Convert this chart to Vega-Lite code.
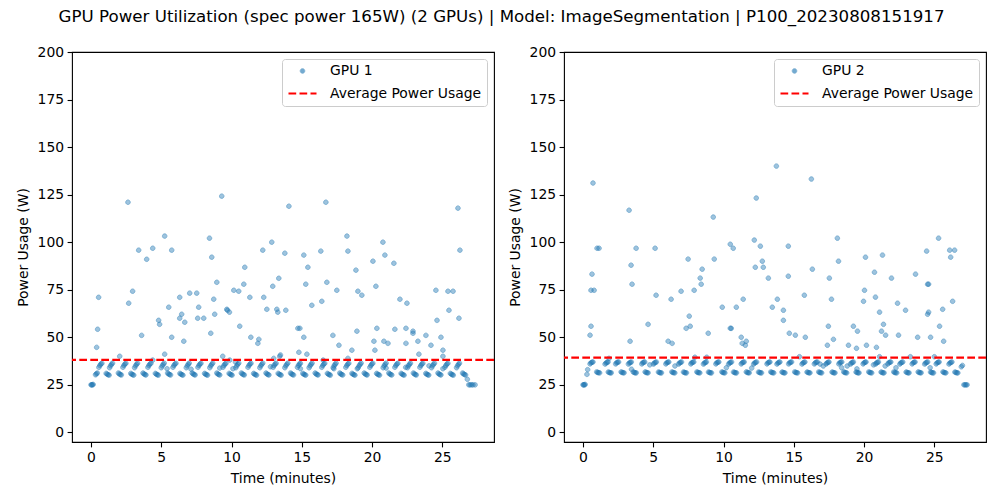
{
"$schema": "https://vega.github.io/schema/vega-lite/v6.json",
"background": "white",
"padding": {"left": 15, "top": 9, "right": 5, "bottom": 5},
"title": {"text": "GPU Power Utilization (spec power 165W) (2 GPUs) | Model: ImageSegmentation | P100_20230808151917", "anchor": "middle", "frame": "bounds", "font": "DejaVu Sans", "fontSize": 16.67, "fontWeight": "normal", "color": "black", "offset": 18.5},
"config": {
  "font": "DejaVu Sans",
  "view": {"stroke": "black", "strokeWidth": 1.1},
  "axis": {"grid": false, "domain": false, "ticks": true, "tickColor": "black", "tickWidth": 1.1, "tickSize": 4.9, "labelFont": "DejaVu Sans", "labelFontSize": 13.9, "labelColor": "black", "labelPadding": 3.5, "titleFont": "DejaVu Sans", "titleFontSize": 13.9, "titleFontWeight": "normal", "titleColor": "black"},
  "axisX": {"titlePadding": 7},
  "axisY": {"titlePadding": 7},
  "legend": {"title": null, "orient": "top-right", "offset": 7, "padding": 5, "strokeColor": "#cccccc", "fillColor": "rgba(255,255,255,0.8)", "cornerRadius": 3, "labelFont": "DejaVu Sans", "labelFontSize": 13.9, "labelColor": "black", "labelOffset": 12, "rowPadding": -2.7}
},
"datasets": {
"g1": [
{"t":0,"p":25},{"t":0.05,"p":25},{"t":0.1,"p":25},{"t":0.15,"p":25.2},{"t":0.32,"p":30.3},{"t":0.38,"p":30.8},{"t":0.45,"p":31.2},
{"t":0.56,"p":34.2},{"t":0.63,"p":35.2},{"t":0.70,"p":35.9},{"t":0.77,"p":36.3},
{"t":1.32,"p":34.0},{"t":1.39,"p":35.0},{"t":1.46,"p":35.8},{"t":1.53,"p":36.4},
{"t":2.27,"p":34.2},{"t":2.34,"p":35.2},{"t":2.41,"p":35.9},{"t":2.48,"p":36.3},
{"t":3.10,"p":34.0},{"t":3.17,"p":35.0},{"t":3.24,"p":35.8},{"t":3.31,"p":36.4},
{"t":4.05,"p":34.2},{"t":4.12,"p":35.2},{"t":4.19,"p":35.9},{"t":4.26,"p":36.3},
{"t":5.00,"p":34.0},{"t":5.07,"p":35.0},{"t":5.14,"p":35.8},{"t":5.21,"p":36.4},
{"t":5.83,"p":34.2},{"t":5.90,"p":35.2},{"t":5.97,"p":35.9},{"t":6.04,"p":36.3},
{"t":6.78,"p":34.0},{"t":6.85,"p":35.0},{"t":6.92,"p":35.8},{"t":6.99,"p":36.4},
{"t":7.61,"p":34.2},{"t":7.68,"p":35.2},{"t":7.75,"p":35.9},{"t":7.82,"p":36.3},
{"t":8.45,"p":34.0},{"t":8.52,"p":35.0},{"t":8.59,"p":35.8},{"t":8.66,"p":36.4},
{"t":9.39,"p":34.2},{"t":9.46,"p":35.2},{"t":9.53,"p":35.9},{"t":9.60,"p":36.3},
{"t":10.30,"p":34.0},{"t":10.37,"p":35.0},{"t":10.44,"p":35.8},{"t":10.51,"p":36.4},
{"t":11.17,"p":34.2},{"t":11.24,"p":35.2},{"t":11.31,"p":35.9},{"t":11.38,"p":36.3},
{"t":12.01,"p":34.0},{"t":12.08,"p":35.0},{"t":12.15,"p":35.8},{"t":12.22,"p":36.4},
{"t":12.96,"p":34.2},{"t":13.03,"p":35.2},{"t":13.10,"p":35.9},{"t":13.17,"p":36.3},
{"t":13.79,"p":34.0},{"t":13.86,"p":35.0},{"t":13.93,"p":35.8},{"t":14.00,"p":36.4},
{"t":14.69,"p":34.2},{"t":14.76,"p":35.2},{"t":14.83,"p":35.9},{"t":14.90,"p":36.3},
{"t":15.52,"p":34.0},{"t":15.59,"p":35.0},{"t":15.66,"p":35.8},{"t":15.73,"p":36.4},
{"t":16.42,"p":34.2},{"t":16.49,"p":35.2},{"t":16.56,"p":35.9},{"t":16.63,"p":36.3},
{"t":17.23,"p":34.0},{"t":17.30,"p":35.0},{"t":17.37,"p":35.8},{"t":17.44,"p":36.4},
{"t":18.13,"p":34.2},{"t":18.20,"p":35.2},{"t":18.27,"p":35.9},{"t":18.34,"p":36.3},
{"t":19.01,"p":34.0},{"t":19.08,"p":35.0},{"t":19.15,"p":35.8},{"t":19.22,"p":36.4},
{"t":19.84,"p":34.2},{"t":19.91,"p":35.2},{"t":19.98,"p":35.9},{"t":20.05,"p":36.3},
{"t":20.79,"p":34.0},{"t":20.86,"p":35.0},{"t":20.93,"p":35.8},{"t":21.00,"p":36.4},
{"t":21.62,"p":34.2},{"t":21.69,"p":35.2},{"t":21.76,"p":35.9},{"t":21.83,"p":36.3},
{"t":22.52,"p":34.0},{"t":22.59,"p":35.0},{"t":22.66,"p":35.8},{"t":22.73,"p":36.4},
{"t":23.40,"p":34.2},{"t":23.47,"p":35.2},{"t":23.54,"p":35.9},{"t":23.61,"p":36.3},
{"t":24.23,"p":34.0},{"t":24.30,"p":35.0},{"t":24.37,"p":35.8},{"t":24.44,"p":36.4},
{"t":25.18,"p":34.2},{"t":25.25,"p":35.2},{"t":25.32,"p":35.9},{"t":25.39,"p":36.3},
{"t":26.01,"p":34.0},{"t":26.08,"p":35.0},{"t":26.15,"p":35.8},{"t":26.22,"p":36.4},
{"t":1.08,"p":31.0},{"t":1.15,"p":30.6},{"t":1.22,"p":30.3},{"t":1.29,"p":30.1},
{"t":1.95,"p":31.2},{"t":2.02,"p":30.7},{"t":2.09,"p":30.4},{"t":2.16,"p":30.2},
{"t":2.83,"p":31.0},{"t":2.90,"p":30.6},{"t":2.97,"p":30.3},{"t":3.04,"p":30.1},
{"t":3.70,"p":31.2},{"t":3.77,"p":30.7},{"t":3.84,"p":30.4},{"t":3.91,"p":30.2},
{"t":4.58,"p":31.0},{"t":4.65,"p":30.6},{"t":4.72,"p":30.3},{"t":4.79,"p":30.1},
{"t":5.45,"p":31.2},{"t":5.52,"p":30.7},{"t":5.59,"p":30.4},{"t":5.66,"p":30.2},
{"t":6.33,"p":31.0},{"t":6.40,"p":30.6},{"t":6.47,"p":30.3},{"t":6.54,"p":30.1},
{"t":7.20,"p":31.2},{"t":7.27,"p":30.7},{"t":7.34,"p":30.4},{"t":7.41,"p":30.2},
{"t":8.08,"p":31.0},{"t":8.15,"p":30.6},{"t":8.22,"p":30.3},{"t":8.29,"p":30.1},
{"t":8.95,"p":31.2},{"t":9.02,"p":30.7},{"t":9.09,"p":30.4},{"t":9.16,"p":30.2},
{"t":9.83,"p":31.0},{"t":9.90,"p":30.6},{"t":9.97,"p":30.3},{"t":10.04,"p":30.1},
{"t":10.70,"p":31.2},{"t":10.77,"p":30.7},{"t":10.84,"p":30.4},{"t":10.91,"p":30.2},
{"t":11.57,"p":31.0},{"t":11.64,"p":30.6},{"t":11.71,"p":30.3},{"t":11.78,"p":30.1},
{"t":12.45,"p":31.2},{"t":12.52,"p":30.7},{"t":12.59,"p":30.4},{"t":12.66,"p":30.2},
{"t":13.32,"p":31.0},{"t":13.39,"p":30.6},{"t":13.46,"p":30.3},{"t":13.53,"p":30.1},
{"t":14.20,"p":31.2},{"t":14.27,"p":30.7},{"t":14.34,"p":30.4},{"t":14.41,"p":30.2},
{"t":15.07,"p":31.0},{"t":15.14,"p":30.6},{"t":15.21,"p":30.3},{"t":15.28,"p":30.1},
{"t":15.95,"p":31.2},{"t":16.02,"p":30.7},{"t":16.09,"p":30.4},{"t":16.16,"p":30.2},
{"t":16.82,"p":31.0},{"t":16.89,"p":30.6},{"t":16.96,"p":30.3},{"t":17.03,"p":30.1},
{"t":17.70,"p":31.2},{"t":17.77,"p":30.7},{"t":17.84,"p":30.4},{"t":17.91,"p":30.2},
{"t":18.57,"p":31.0},{"t":18.64,"p":30.6},{"t":18.71,"p":30.3},{"t":18.78,"p":30.1},
{"t":19.44,"p":31.2},{"t":19.51,"p":30.7},{"t":19.58,"p":30.4},{"t":19.65,"p":30.2},
{"t":20.32,"p":31.0},{"t":20.39,"p":30.6},{"t":20.46,"p":30.3},{"t":20.53,"p":30.1},
{"t":21.19,"p":31.2},{"t":21.26,"p":30.7},{"t":21.33,"p":30.4},{"t":21.40,"p":30.2},
{"t":22.07,"p":31.0},{"t":22.14,"p":30.6},{"t":22.21,"p":30.3},{"t":22.28,"p":30.1},
{"t":22.94,"p":31.2},{"t":23.01,"p":30.7},{"t":23.08,"p":30.4},{"t":23.15,"p":30.2},
{"t":23.82,"p":31.0},{"t":23.89,"p":30.6},{"t":23.96,"p":30.3},{"t":24.03,"p":30.1},
{"t":24.69,"p":31.2},{"t":24.76,"p":30.7},{"t":24.83,"p":30.4},{"t":24.90,"p":30.2},
{"t":25.57,"p":31.0},{"t":25.64,"p":30.6},{"t":25.71,"p":30.3},{"t":25.78,"p":30.1},
{"t":26.44,"p":31.2},{"t":26.51,"p":30.7},{"t":26.58,"p":30.4},{"t":26.65,"p":30.2},
{"t":26.78,"p":27.9},{"t":26.88,"p":25},{"t":26.98,"p":25},{"t":27.08,"p":25},{"t":27.18,"p":25},{"t":27.33,"p":25},
{"t":2.63,"p":121.0},{"t":9.30,"p":124.2},{"t":14.08,"p":118.9},{"t":16.71,"p":121.0},{"t":26.11,"p":117.9},
{"t":5.24,"p":103.2},{"t":3.39,"p":95.8},{"t":4.39,"p":96.8},{"t":3.96,"p":91.0},{"t":5.74,"p":95.8},
{"t":8.43,"p":102.1},{"t":8.59,"p":92.1},{"t":12.22,"p":95.8},{"t":12.86,"p":100.0},{"t":13.79,"p":94.2},
{"t":15.14,"p":93.2},{"t":16.35,"p":95.3},{"t":18.21,"p":103.2},{"t":18.28,"p":95.3},{"t":20.77,"p":100.0},
{"t":20.91,"p":93.2},{"t":20.06,"p":90.0},{"t":21.55,"p":88.9},{"t":26.25,"p":95.8},{"t":10.94,"p":86.8},
{"t":15.43,"p":86.8},{"t":18.85,"p":85.3},{"t":8.95,"p":78.9},{"t":10.87,"p":77.9},{"t":13.36,"p":81.0},
{"t":12.93,"p":76.8},{"t":15.28,"p":77.9},{"t":16.78,"p":78.9},{"t":20.27,"p":76.8},{"t":0.54,"p":71.0},
{"t":2.96,"p":74.2},{"t":2.68,"p":67.9},{"t":6.31,"p":71.0},{"t":7.02,"p":73.2},{"t":7.52,"p":73.2},
{"t":5.53,"p":65.8},{"t":7.66,"p":65.8},{"t":8.73,"p":70.0},{"t":10.16,"p":74.7},{"t":10.51,"p":74.2},
{"t":11.30,"p":71.0},{"t":12.29,"p":71.0},{"t":17.49,"p":74.7},{"t":18.99,"p":74.2},{"t":19.27,"p":72.1},
{"t":21.98,"p":70.0},{"t":22.48,"p":67.9},{"t":24.54,"p":74.7},{"t":25.40,"p":74.2},{"t":25.76,"p":74.2},
{"t":15.71,"p":66.8},{"t":16.42,"p":68.9},{"t":9.66,"p":64.7},{"t":9.71,"p":64.2},{"t":9.85,"p":63.2},
{"t":12.51,"p":64.7},{"t":13.22,"p":64.7},{"t":13.29,"p":63.2},{"t":13.86,"p":64.2},{"t":6.45,"p":62.1},
{"t":6.31,"p":60.0},{"t":6.67,"p":57.9},{"t":7.59,"p":60.0},{"t":8.02,"p":60.0},{"t":8.80,"p":62.1},
{"t":4.81,"p":58.9},{"t":4.88,"p":56.8},{"t":24.62,"p":58.9},{"t":25.47,"p":64.2},{"t":26.18,"p":60.0},
{"t":0.47,"p":54.2},{"t":0.40,"p":44.7},{"t":3.60,"p":51.0},{"t":5.74,"p":50.0},{"t":6.60,"p":47.9},
{"t":8.52,"p":52.1},{"t":10.58,"p":55.8},{"t":11.37,"p":50.0},{"t":11.94,"p":48.9},{"t":11.87,"p":46.8},
{"t":14.72,"p":54.7},{"t":14.86,"p":54.7},{"t":15.14,"p":50.0},{"t":17.21,"p":51.0},{"t":17.64,"p":45.8},
{"t":18.92,"p":53.2},{"t":20.34,"p":54.7},{"t":20.13,"p":47.9},{"t":20.84,"p":47.9},{"t":21.13,"p":46.8},
{"t":21.62,"p":54.2},{"t":22.41,"p":54.7},{"t":22.91,"p":53.2},{"t":22.91,"p":52.1},{"t":22.41,"p":46.8},
{"t":23.26,"p":47.9},{"t":23.83,"p":51.0},{"t":24.19,"p":45.8},{"t":24.90,"p":50.0},{"t":25.04,"p":43.2},
{"t":25.04,"p":40.0},{"t":2.04,"p":40.0},{"t":5.24,"p":41.1},{"t":9.37,"p":40.0},{"t":13.00,"p":38.9},
{"t":13.43,"p":40.0},{"t":14.79,"p":42.1},{"t":15.36,"p":41.1},{"t":18.56,"p":43.2},{"t":18.28,"p":38.9},
{"t":20.20,"p":43.2},{"t":23.33,"p":41.1},
{"t":4.39,"p":38.0},{"t":9.87,"p":38.0},{"t":10.28,"p":37.0},{"t":13.48,"p":40.7},{"t":16.52,"p":38.0},
{"t":5.41,"p":33.5},{"t":7.12,"p":33.2},{"t":9.16,"p":33.8},{"t":10.10,"p":33.5},{"t":12.77,"p":34.5},
{"t":14.90,"p":33.5},{"t":17.28,"p":33.5},{"t":18.95,"p":33.5},{"t":21.00,"p":33.8},{"t":22.39,"p":34.2},
{"t":24.05,"p":35.0},{"t":25.04,"p":33.5}
],
"g2": [
{"t":0,"p":25},{"t":0.05,"p":25},{"t":0.1,"p":25},{"t":0.15,"p":25.2},{"t":0.28,"p":30.5},{"t":0.33,"p":33.0},
{"t":0.50,"p":36.0},{"t":0.57,"p":36.6},{"t":0.64,"p":36.9},{"t":0.71,"p":37.0},
{"t":1.57,"p":35.9},{"t":1.64,"p":36.5},{"t":1.71,"p":36.8},{"t":1.78,"p":37.0},
{"t":2.32,"p":36.0},{"t":2.39,"p":36.6},{"t":2.46,"p":36.9},{"t":2.53,"p":37.0},
{"t":3.23,"p":35.9},{"t":3.30,"p":36.5},{"t":3.37,"p":36.8},{"t":3.44,"p":37.0},
{"t":4.18,"p":36.0},{"t":4.25,"p":36.6},{"t":4.32,"p":36.9},{"t":4.39,"p":37.0},
{"t":5.01,"p":35.9},{"t":5.08,"p":36.5},{"t":5.15,"p":36.8},{"t":5.22,"p":37.0},
{"t":5.89,"p":36.0},{"t":5.96,"p":36.6},{"t":6.03,"p":36.9},{"t":6.10,"p":37.0},
{"t":6.80,"p":35.9},{"t":6.87,"p":36.5},{"t":6.94,"p":36.8},{"t":7.01,"p":37.0},
{"t":7.67,"p":36.0},{"t":7.74,"p":36.6},{"t":7.81,"p":36.9},{"t":7.88,"p":37.0},
{"t":8.57,"p":35.9},{"t":8.64,"p":36.5},{"t":8.71,"p":36.8},{"t":8.78,"p":37.0},
{"t":9.45,"p":36.0},{"t":9.52,"p":36.6},{"t":9.59,"p":36.9},{"t":9.66,"p":37.0},
{"t":10.36,"p":35.9},{"t":10.43,"p":36.5},{"t":10.50,"p":36.8},{"t":10.57,"p":37.0},
{"t":11.26,"p":36.0},{"t":11.33,"p":36.6},{"t":11.40,"p":36.9},{"t":11.47,"p":37.0},
{"t":12.14,"p":35.9},{"t":12.21,"p":36.5},{"t":12.28,"p":36.8},{"t":12.35,"p":37.0},
{"t":13.09,"p":36.0},{"t":13.16,"p":36.6},{"t":13.23,"p":36.9},{"t":13.30,"p":37.0},
{"t":13.80,"p":35.9},{"t":13.87,"p":36.5},{"t":13.94,"p":36.8},{"t":14.01,"p":37.0},
{"t":14.63,"p":36.0},{"t":14.70,"p":36.6},{"t":14.77,"p":36.9},{"t":14.84,"p":37.0},
{"t":15.58,"p":35.9},{"t":15.65,"p":36.5},{"t":15.72,"p":36.8},{"t":15.79,"p":37.0},
{"t":16.46,"p":36.0},{"t":16.53,"p":36.6},{"t":16.60,"p":36.9},{"t":16.67,"p":37.0},
{"t":17.29,"p":35.9},{"t":17.36,"p":36.5},{"t":17.43,"p":36.8},{"t":17.50,"p":37.0},
{"t":18.20,"p":36.0},{"t":18.27,"p":36.6},{"t":18.34,"p":36.9},{"t":18.41,"p":37.0},
{"t":19.03,"p":35.9},{"t":19.10,"p":36.5},{"t":19.17,"p":36.8},{"t":19.24,"p":37.0},
{"t":19.93,"p":36.0},{"t":20.00,"p":36.6},{"t":20.07,"p":36.9},{"t":20.14,"p":37.0},
{"t":20.81,"p":35.9},{"t":20.88,"p":36.5},{"t":20.95,"p":36.8},{"t":21.02,"p":37.0},
{"t":21.69,"p":36.0},{"t":21.76,"p":36.6},{"t":21.83,"p":36.9},{"t":21.90,"p":37.0},
{"t":22.54,"p":35.9},{"t":22.61,"p":36.5},{"t":22.68,"p":36.8},{"t":22.75,"p":37.0},
{"t":23.42,"p":36.0},{"t":23.49,"p":36.6},{"t":23.56,"p":36.9},{"t":23.63,"p":37.0},
{"t":24.31,"p":35.9},{"t":24.38,"p":36.5},{"t":24.45,"p":36.8},{"t":24.52,"p":37.0},
{"t":25.13,"p":36.0},{"t":25.20,"p":36.6},{"t":25.27,"p":36.9},{"t":25.34,"p":37.0},
{"t":26.04,"p":35.9},{"t":26.11,"p":36.5},{"t":26.18,"p":36.8},{"t":26.25,"p":37.0},
{"t":0.97,"p":31.8},{"t":1.04,"p":31.5},{"t":1.11,"p":31.4},{"t":1.18,"p":31.3},
{"t":1.80,"p":31.7},{"t":1.87,"p":31.5},{"t":1.94,"p":31.3},{"t":2.01,"p":31.3},
{"t":2.71,"p":31.8},{"t":2.78,"p":31.5},{"t":2.85,"p":31.4},{"t":2.92,"p":31.3},
{"t":3.58,"p":31.7},{"t":3.65,"p":31.5},{"t":3.72,"p":31.3},{"t":3.79,"p":31.3},
{"t":4.42,"p":31.8},{"t":4.49,"p":31.5},{"t":4.56,"p":31.4},{"t":4.63,"p":31.3},
{"t":5.37,"p":31.7},{"t":5.44,"p":31.5},{"t":5.51,"p":31.3},{"t":5.58,"p":31.3},
{"t":6.32,"p":31.8},{"t":6.39,"p":31.5},{"t":6.46,"p":31.4},{"t":6.53,"p":31.3},
{"t":7.15,"p":31.7},{"t":7.22,"p":31.5},{"t":7.29,"p":31.3},{"t":7.36,"p":31.3},
{"t":8.10,"p":31.8},{"t":8.17,"p":31.5},{"t":8.24,"p":31.4},{"t":8.31,"p":31.3},
{"t":8.93,"p":31.7},{"t":9.00,"p":31.5},{"t":9.07,"p":31.3},{"t":9.14,"p":31.3},
{"t":9.88,"p":31.8},{"t":9.95,"p":31.5},{"t":10.02,"p":31.4},{"t":10.09,"p":31.3},
{"t":10.71,"p":31.7},{"t":10.78,"p":31.5},{"t":10.85,"p":31.3},{"t":10.92,"p":31.3},
{"t":11.62,"p":31.8},{"t":11.69,"p":31.5},{"t":11.76,"p":31.4},{"t":11.83,"p":31.3},
{"t":12.49,"p":31.7},{"t":12.56,"p":31.5},{"t":12.63,"p":31.3},{"t":12.70,"p":31.3},
{"t":13.36,"p":31.8},{"t":13.43,"p":31.5},{"t":13.50,"p":31.4},{"t":13.57,"p":31.3},
{"t":14.16,"p":31.7},{"t":14.23,"p":31.5},{"t":14.30,"p":31.3},{"t":14.37,"p":31.3},
{"t":15.06,"p":31.8},{"t":15.13,"p":31.5},{"t":15.20,"p":31.4},{"t":15.27,"p":31.3},
{"t":15.94,"p":31.7},{"t":16.01,"p":31.5},{"t":16.08,"p":31.3},{"t":16.15,"p":31.3},
{"t":16.77,"p":31.8},{"t":16.84,"p":31.5},{"t":16.91,"p":31.4},{"t":16.98,"p":31.3},
{"t":17.72,"p":31.7},{"t":17.79,"p":31.5},{"t":17.86,"p":31.3},{"t":17.93,"p":31.3},
{"t":18.55,"p":31.8},{"t":18.62,"p":31.5},{"t":18.69,"p":31.4},{"t":18.76,"p":31.3},
{"t":19.43,"p":31.7},{"t":19.50,"p":31.5},{"t":19.57,"p":31.3},{"t":19.64,"p":31.3},
{"t":20.33,"p":31.8},{"t":20.40,"p":31.5},{"t":20.47,"p":31.4},{"t":20.54,"p":31.3},
{"t":21.21,"p":31.7},{"t":21.28,"p":31.5},{"t":21.35,"p":31.3},{"t":21.42,"p":31.3},
{"t":22.11,"p":31.8},{"t":22.18,"p":31.5},{"t":22.25,"p":31.4},{"t":22.32,"p":31.3},
{"t":22.99,"p":31.7},{"t":23.06,"p":31.5},{"t":23.13,"p":31.3},{"t":23.20,"p":31.3},
{"t":23.85,"p":31.8},{"t":23.92,"p":31.5},{"t":23.99,"p":31.4},{"t":24.06,"p":31.3},
{"t":24.73,"p":31.7},{"t":24.80,"p":31.5},{"t":24.87,"p":31.3},{"t":24.94,"p":31.3},
{"t":25.61,"p":31.8},{"t":25.68,"p":31.5},{"t":25.75,"p":31.4},{"t":25.82,"p":31.3},
{"t":26.46,"p":31.7},{"t":26.53,"p":31.5},{"t":26.60,"p":31.3},{"t":26.67,"p":31.3},
{"t":26.92,"p":34.5},{"t":27.00,"p":35.2},{"t":27.10,"p":25},{"t":27.18,"p":25},{"t":27.25,"p":25},{"t":27.33,"p":25},
{"t":13.76,"p":140.0},{"t":16.25,"p":133.2},{"t":0.71,"p":131.1},{"t":12.33,"p":123.2},{"t":3.28,"p":116.8},
{"t":9.27,"p":113.2},{"t":12.19,"p":101.1},{"t":18.10,"p":102.1},{"t":25.30,"p":102.1},{"t":10.48,"p":98.9},
{"t":10.69,"p":96.8},{"t":12.62,"p":97.9},{"t":14.61,"p":97.9},{"t":24.45,"p":95.3},{"t":26.09,"p":95.8},
{"t":26.44,"p":95.8},{"t":1.00,"p":96.8},{"t":1.14,"p":96.8},{"t":3.78,"p":96.8},{"t":5.13,"p":96.8},
{"t":26.16,"p":92.1},{"t":20.10,"p":92.1},{"t":21.31,"p":93.2},{"t":7.48,"p":91.1},{"t":9.34,"p":91.1},
{"t":12.76,"p":90.0},{"t":18.18,"p":90.0},{"t":3.42,"p":87.9},{"t":12.26,"p":86.8},{"t":12.83,"p":86.8},
{"t":8.48,"p":85.8},{"t":16.32,"p":85.8},{"t":0.64,"p":83.2},{"t":20.74,"p":84.2},{"t":23.66,"p":83.2},
{"t":8.34,"p":81.1},{"t":13.19,"p":81.1},{"t":14.61,"p":82.1},{"t":17.53,"p":81.1},{"t":21.95,"p":81.1},
{"t":3.49,"p":77.9},{"t":8.41,"p":77.9},{"t":24.52,"p":77.9},{"t":24.59,"p":77.9},{"t":0.57,"p":74.7},
{"t":0.79,"p":74.7},{"t":7.91,"p":74.7},{"t":20.03,"p":74.7},{"t":6.98,"p":74.2},{"t":5.20,"p":72.1},
{"t":15.75,"p":72.1},{"t":20.81,"p":71.1},{"t":6.27,"p":70.0},{"t":11.40,"p":70.0},{"t":13.83,"p":70.0},
{"t":17.68,"p":70.0},{"t":19.96,"p":68.9},{"t":26.30,"p":68.9},{"t":22.38,"p":67.9},{"t":9.91,"p":65.8},
{"t":10.91,"p":65.8},{"t":13.47,"p":65.8},{"t":14.26,"p":64.2},{"t":22.95,"p":64.2},{"t":25.59,"p":64.7},
{"t":21.10,"p":63.2},{"t":24.59,"p":63.2},{"t":24.52,"p":62.1},{"t":7.56,"p":61.1},{"t":14.26,"p":58.9},
{"t":0.57,"p":55.8},{"t":0.50,"p":51.1},{"t":4.63,"p":56.8},{"t":7.34,"p":54.7},{"t":7.63,"p":55.8},
{"t":10.48,"p":54.7},{"t":10.55,"p":54.7},{"t":8.91,"p":52.1},{"t":17.46,"p":55.8},{"t":19.24,"p":55.8},
{"t":19.53,"p":53.2},{"t":21.38,"p":56.8},{"t":21.24,"p":53.2},{"t":21.53,"p":51.1},{"t":25.37,"p":55.8},
{"t":14.68,"p":52.1},{"t":15.11,"p":51.1},{"t":15.82,"p":50.0},{"t":22.45,"p":51.1},{"t":23.81,"p":50.0},
{"t":24.73,"p":50.0},{"t":3.35,"p":47.9},{"t":6.06,"p":47.9},{"t":6.34,"p":46.8},{"t":11.26,"p":50.0},
{"t":11.33,"p":46.8},{"t":11.62,"p":47.9},{"t":11.55,"p":45.8},{"t":17.82,"p":48.9},{"t":17.39,"p":45.8},
{"t":18.89,"p":45.8},{"t":19.46,"p":44.2},{"t":20.17,"p":45.8},{"t":20.88,"p":44.7},{"t":25.66,"p":47.9},
{"t":1.85,"p":38.9},
{"t":7.96,"p":39.5},{"t":8.80,"p":39.5},{"t":15.40,"p":39.8},{"t":21.10,"p":39.8},{"t":23.29,"p":39.8},{"t":25.00,"p":39.8},
{"t":3.45,"p":33.2},{"t":4.75,"p":35.5},{"t":6.54,"p":34.9},{"t":16.87,"p":35.9},{"t":17.10,"p":34.9},
{"t":18.40,"p":34.0},{"t":18.80,"p":34.9},{"t":19.49,"p":33.4},{"t":20.67,"p":35.5},{"t":21.50,"p":34.9},
{"t":22.27,"p":34.0},{"t":24.70,"p":34.0},{"t":10.20,"p":34.0},{"t":12.00,"p":33.8}
]
},
"bounds": "flush",
"spacing": 70,
"resolve": {
  "scale": {"color": "independent", "shape": "independent", "size": "independent", "strokeDash": "independent", "strokeWidth": "independent", "opacity": "independent"},
  "legend": {"color": "independent", "shape": "independent", "size": "independent", "strokeDash": "independent", "strokeWidth": "independent", "opacity": "independent"}
},
"hconcat": [
{
"width": 422, "height": 390,
"layer": [
{
"data": {"name": "g1"},
"mark": {"type": "point", "filled": false, "fill": "#1f77b4", "fillOpacity": 0.7},
"encoding": {
"x": {"field": "t", "type": "quantitative", "scale": {"domain": [-1.353, 28.675], "nice": false, "zero": false}, "axis": {"values": [0,5,10,15,20,25], "title": "Time (minutes)"}},
"y": {"field": "p", "type": "quantitative", "scale": {"domain": [-5.06, 200], "nice": false, "zero": false}, "axis": {"values": [0,25,50,75,100,125,150,175,200], "title": "Power Usage (W)"}},
"color": {"datum": "GPU 1", "type": "nominal", "scale": {"domain": ["GPU 1", "Average Power Usage"], "range": ["#1f77b4", "#ff0000"]}, "legend": {"title": null}},
"shape": {"datum": "GPU 1", "type": "nominal", "scale": {"domain": ["GPU 1", "Average Power Usage"], "range": ["circle", "stroke"]}, "legend": {"title": null}},
"size": {"datum": "GPU 1", "type": "ordinal", "scale": {"domain": ["GPU 1", "Average Power Usage"], "range": [20, 784]}, "legend": {"title": null}},
"strokeDash": {"datum": "GPU 1", "type": "nominal", "scale": {"domain": ["GPU 1", "Average Power Usage"], "range": [[1, 0], [7.7, 3.3]]}, "legend": {"title": null}},
"strokeWidth": {"datum": "GPU 1", "type": "ordinal", "scale": {"domain": ["GPU 1", "Average Power Usage"], "range": [1, 2.1]}, "legend": {"title": null}},
"opacity": {"datum": "GPU 1", "type": "ordinal", "scale": {"domain": ["GPU 1", "Average Power Usage"], "range": [0.62, 1]}, "legend": {"title": null}}
}
},
{
"data": {"values": [{"avg": 38.1}]},
"mark": {"type": "rule", "color": "#ff0000", "strokeWidth": 2.1, "strokeDash": [7.7, 3.3]},
"encoding": {"y": {"field": "avg", "type": "quantitative"}}
}
]
},
{
"width": 422, "height": 390,
"layer": [
{
"data": {"name": "g2"},
"mark": {"type": "point", "filled": false, "fill": "#1f77b4", "fillOpacity": 0.7},
"encoding": {
"x": {"field": "t", "type": "quantitative", "scale": {"domain": [-1.353, 28.675], "nice": false, "zero": false}, "axis": {"values": [0,5,10,15,20,25], "title": "Time (minutes)"}},
"y": {"field": "p", "type": "quantitative", "scale": {"domain": [-5.06, 200], "nice": false, "zero": false}, "axis": {"values": [0,25,50,75,100,125,150,175,200], "title": "Power Usage (W)"}},
"color": {"datum": "GPU 2", "type": "nominal", "scale": {"domain": ["GPU 2", "Average Power Usage"], "range": ["#1f77b4", "#ff0000"]}, "legend": {"title": null}},
"shape": {"datum": "GPU 2", "type": "nominal", "scale": {"domain": ["GPU 2", "Average Power Usage"], "range": ["circle", "stroke"]}, "legend": {"title": null}},
"size": {"datum": "GPU 2", "type": "ordinal", "scale": {"domain": ["GPU 2", "Average Power Usage"], "range": [20, 784]}, "legend": {"title": null}},
"strokeDash": {"datum": "GPU 2", "type": "nominal", "scale": {"domain": ["GPU 2", "Average Power Usage"], "range": [[1, 0], [7.7, 3.3]]}, "legend": {"title": null}},
"strokeWidth": {"datum": "GPU 2", "type": "ordinal", "scale": {"domain": ["GPU 2", "Average Power Usage"], "range": [1, 2.1]}, "legend": {"title": null}},
"opacity": {"datum": "GPU 2", "type": "ordinal", "scale": {"domain": ["GPU 2", "Average Power Usage"], "range": [0.62, 1]}, "legend": {"title": null}}
}
},
{
"data": {"values": [{"avg": 39.3}]},
"mark": {"type": "rule", "color": "#ff0000", "strokeWidth": 2.1, "strokeDash": [7.7, 3.3]},
"encoding": {"y": {"field": "avg", "type": "quantitative"}}
}
]
}
]
}
